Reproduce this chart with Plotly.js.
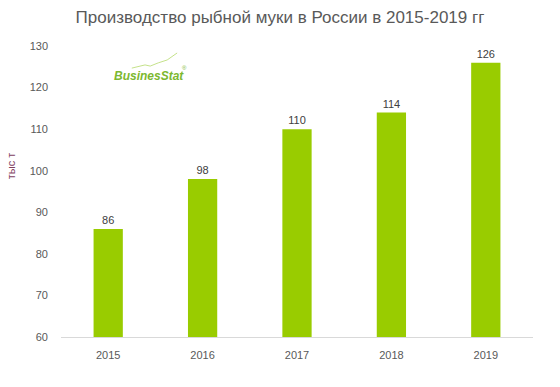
<!DOCTYPE html>
<html>
<head>
<meta charset="utf-8">
<script src="https://cdn.plot.ly/plotly-3.0.1.min.js"></script>
<style>html,body{margin:0;padding:0;background:#fff}#chart{width:560px;height:387px}</style>
</head>
<body>
<div id="chart"></div>
<script>
const years = ['2015', '2016', '2017', '2018', '2019'];
const values = [86, 98, 110, 114, 126];
const valueLabels = ['86', '98', '110', '114', '126'];
const yTicks = [60, 70, 80, 90, 100, 110, 120, 130];

const trace = {
  type: 'bar',
  x: years,
  y: values,
  text: valueLabels,
  textposition: 'outside',
  cliponaxis: false,
  textfont: {family: 'Liberation Sans, Arial, sans-serif', size: 11, color: '#404040'},
  marker: {color: '#99cc00'},
  hoverinfo: 'x+y'
};

const layout = {
  width: 560, height: 387,
  margin: {l: 61, r: 27, t: 46, b: 50},
  paper_bgcolor: '#ffffff', plot_bgcolor: '#ffffff',
  bargap: 0.69,
  showlegend: false,
  title: {
    text: 'Производство рыбной муки в России в 2015-2019 гг',
    font: {family: 'Liberation Sans, Arial, sans-serif', size: 17, color: '#595959'},
    x: 0.5, xanchor: 'center', y: 0.955, yanchor: 'middle'
  },
  xaxis: {
    type: 'category',
    showline: true, linecolor: '#d9d9d9', linewidth: 1,
    ticks: '', showgrid: false, zeroline: false,
    tickfont: {family: 'Liberation Sans, Arial, sans-serif', size: 11, color: '#595959'},
    ticklabelstandoff: 8
  },
  yaxis: {
    range: [60, 130],
    tickvals: yTicks,
    showline: false, showgrid: false, zeroline: false, ticks: '',
    tickfont: {family: 'Liberation Sans, Arial, sans-serif', size: 11, color: '#595959'},
    ticklabelstandoff: 12
  },
  shapes: [{
    type: 'path', xref: 'paper', yref: 'paper',
    path: 'M 0.150 0.924 L 0.178 0.935 L 0.189 0.931 L 0.206 0.942 L 0.225 0.952 L 0.246 0.976',
    line: {color: '#c5e28a', width: 1}
  }],
  annotations: [{
    xref: 'paper', yref: 'paper', x: -0.106, y: 0.59, xanchor: 'center', yanchor: 'middle',
    text: 'тыс т', textangle: -90, showarrow: false,
    font: {family: 'Liberation Sans, Arial, sans-serif', size: 11, color: '#7f3f5f'}
  }, {
    xref: 'paper', yref: 'paper', x: 0.108, y: 0.897, xanchor: 'left', yanchor: 'middle',
    text: '<b><i>BusinesStat</i></b>', showarrow: false,
    font: {family: 'Liberation Sans, Arial, sans-serif', size: 12, color: '#7cb82f'}
  }, {
    xref: 'paper', yref: 'paper', x: 0.252, y: 0.925, xanchor: 'left', yanchor: 'middle',
    text: '®', showarrow: false,
    font: {family: 'Liberation Sans, Arial, sans-serif', size: 6, color: '#7cb82f'}
  }]
};

Plotly.newPlot('chart', [trace], layout, {displayModeBar: false, staticPlot: true});
</script>
</body>
</html>
